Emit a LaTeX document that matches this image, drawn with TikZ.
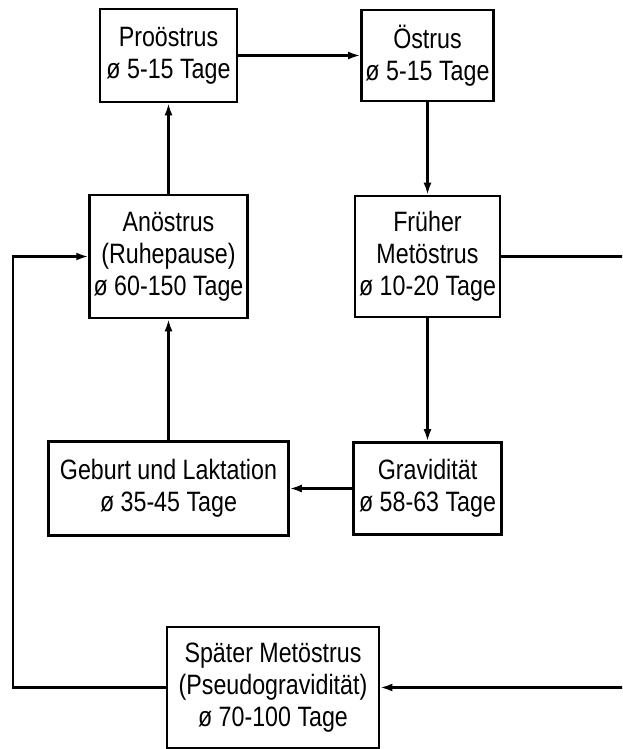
\documentclass[tikz,border=0pt]{standalone}
\usepackage{fontspec}
\setmainfont{Liberation Sans}[FakeStretch=0.83]
\usetikzlibrary{positioning,arrows.meta}

\begin{document}
\begin{tikzpicture}[x=0.5pt,y=-0.5pt,>={Latex[length=6pt,width=4pt]},
  phase/.style={rectangle,draw,line width=1.3pt,align=center,inner sep=2pt,font=\fontsize{14}{16}\selectfont}]
  \useasboundingbox (0,0) rectangle (622,749);
  \clip (0,0) rectangle (622,749);

  \node[phase,minimum width=68.5pt,minimum height=46.5pt] (proe) at (168.5,55.5) {Proöstrus\\ø 5-15 Tage};
  \node[phase,minimum width=63.5pt,minimum height=45.5pt] (oes) [right of=proe,node distance=129.5pt] {Östrus\\ø 5-15 Tage};
  \node[phase,minimum width=78pt,minimum height=61.5pt] (anoe) [below of=proe,node distance=100.5pt] {Anöstrus\\(Ruhepause)\\ø 60-150 Tage};
  \node[phase,minimum width=68pt,minimum height=60.5pt] (frueh) [below of=oes,node distance=100.5pt] {Früher\\Metöstrus\\ø 10-20 Tage};
  \node[phase,minimum width=120pt,minimum height=47pt] (geburt) [below of=anoe,node distance=116pt] {Geburt und Laktation\\ø 35-45 Tage};
  \node[phase,minimum width=74pt,minimum height=46pt] (grav) [below of=frueh,node distance=116pt] {Gravidität\\ø 58-63 Tage};
  \node[phase,minimum width=106pt,minimum height=60.5pt] (spaet) at (273,687.5) {Später Metöstrus\\(Pseudogravidität)\\ø 70-100 Tage};

  \coordinate (lft) at (13,687.5);
  \coordinate (rgt) at (650,256.5);

  \path[draw,line width=1.1pt]
    (proe) edge[->] (oes)
    (oes) edge[->] (frueh)
    (frueh) edge[->] (grav)
    (grav) edge[->] (geburt)
    (geburt) edge[->] (anoe)
    (anoe) edge[->] (proe);
  \draw[->,line width=1.1pt] (spaet.west) -- (lft) |- (anoe.west);
  \draw[->,line width=1.1pt] (frueh.east) -- (rgt) |- (spaet.east);
\end{tikzpicture}
\end{document}
